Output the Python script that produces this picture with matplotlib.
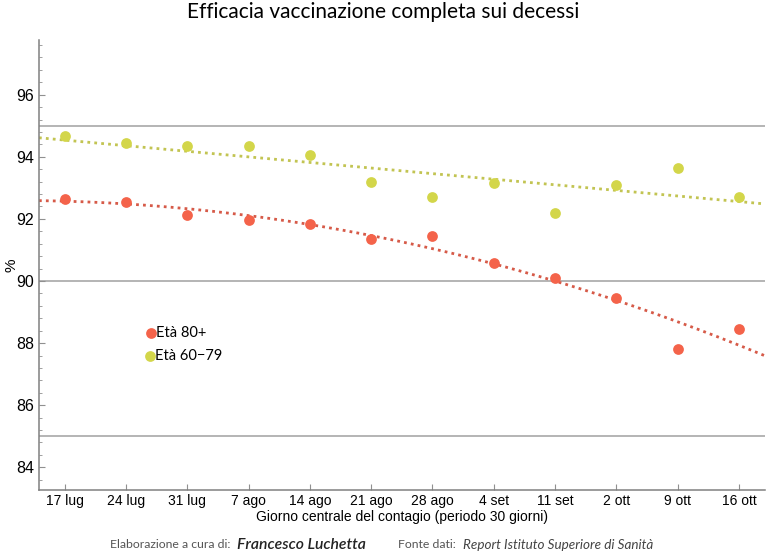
import numpy as np
import matplotlib
matplotlib.use("Agg")
import matplotlib.pyplot as plt
from matplotlib.ticker import MultipleLocator

# giorno centrale del contagio (periodo 30 giorni)
giorni = ["17 lug", "24 lug", "31 lug", "7 ago", "14 ago", "21 ago",
          "28 ago", "4 set", "11 set", "2 ott", "9 ott", "16 ott"]

# efficacia vaccinazione completa sui decessi (%)
eta_80 = [92.64, 92.55, 92.14, 91.98, 91.84, 91.36, 91.44, 90.59, 90.10, 89.46, 87.82, 88.44]
eta_60_79 = [94.68, 94.45, 94.34, 94.34, 94.06, 93.19, 92.70, 93.15, 92.20, 93.10, 93.64, 92.72]

col_80 = "#f4634a"
col_60 = "#d3d64a"

fig = plt.figure(figsize=(7.67, 5.52), dpi=100)
ax = fig.add_axes([0.0508, 0.1123, 0.9462, 0.8152])

x = np.arange(len(giorni))
xs = np.linspace(-0.42, len(giorni) - 1 + 0.42, 200)

# gray reference lines
for yy in [95, 90, 85]:
    ax.axhline(yy, color="#a0a0a0", lw=1.1, zorder=1)

# trend lines: quadratic for 80+, linear for 60-79
fit80 = np.polyfit(x, eta_80, 2)
fit60 = np.polyfit(x, eta_60_79, 1)
ax.plot(xs, np.polyval(fit80, xs), ls=(0, (1, 1.5)), color="#d65a48", lw=2, zorder=2)
ax.plot(xs, np.polyval(fit60, xs), ls=(0, (1, 1.5)), color="#c2c452", lw=2, zorder=2)

ax.scatter(x, eta_80, s=60, color=col_80, zorder=3, linewidths=0)
ax.scatter(x, eta_60_79, s=60, color=col_60, zorder=3, linewidths=0)

ax.set_xlim(-0.42, len(giorni) - 1 + 0.42)
ax.set_ylim(83.27, 97.76)
ax.set_xticks(x)
ax.set_xticklabels(giorni, family="Liberation Sans", fontsize=10)
ax.yaxis.set_major_locator(MultipleLocator(2))
ax.yaxis.set_minor_locator(MultipleLocator(0.4))
for lab in ax.get_yticklabels():
    lab.set_family("Liberation Sans")
    lab.set_fontsize(11.5)

ax.tick_params(direction="in", color="#909090", length=4, width=0.8)
ax.tick_params(which="minor", direction="in", color="#909090", length=2, width=0.6)
ax.tick_params(axis="x", pad=3)
for s in ["top", "right"]:
    ax.spines[s].set_visible(False)
for s in ["left", "bottom"]:
    ax.spines[s].set_color("#808080")
    ax.spines[s].set_linewidth(1.1)

fig.text(11 / 767, 1 - 265 / 552, "%", family="Liberation Sans", fontsize=11,
         rotation=90, ha="center", va="center")
ax.set_xlabel("Giorno centrale del contagio (periodo 30 giorni)",
              family="Liberation Sans", fontsize=10, labelpad=1)

# legend
ax.scatter([1.40], [88.33], s=60, color=col_80, linewidths=0)
ax.scatter([1.39], [87.58], s=60, color=col_60, linewidths=0)
ax.text(1.49, 88.33, "Età 80+", family="Lato", fontsize=10.5, va="center")
ax.text(1.48, 87.58, "Età 60\u221279", family="Lato", fontsize=10.5, va="center")

fig.text(0.5, 1 - 11.5 / 552, "Efficacia vaccinazione completa sui decessi",
         family="Lato", fontsize=15, ha="center", va="center")

fy = 1 - 545 / 552
fig.text(110 / 767, fy, "Elaborazione a cura di:", family="Lato", fontsize=8.8,
         color="#555555", va="center")
fig.text(237 / 767, fy, "Francesco Luchetta", family="Lato", fontsize=11.3,
         style="italic", weight="semibold", color="#222222", va="center")
fig.text(398 / 767, fy, "Fonte dati:", family="Lato", fontsize=8.8,
         color="#555555", va="center")
fig.text(463 / 767, fy, "Report Istituto Superiore di Sanità", family="Lato",
         fontsize=9.7, style="italic", color="#444444", va="center")

fig.savefig("out.png", dpi=100)
